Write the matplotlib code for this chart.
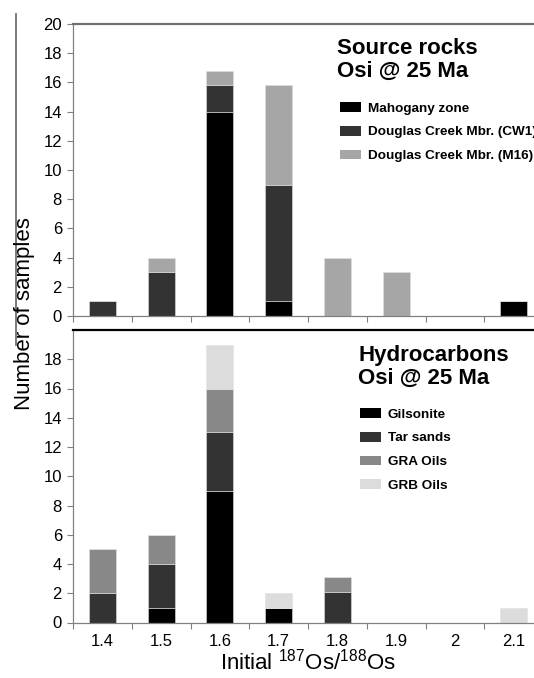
import numpy as np
import matplotlib
matplotlib.use("Agg")
import matplotlib.pyplot as plt
from matplotlib.patches import Patch
from matplotlib.lines import Line2D

OUT_PNG = "out.png"

# categorie dell'asse x (187Os/188Os iniziale)
CATEGORIES = ["1.4", "1.5", "1.6", "1.7", "1.8", "1.9", "2", "2.1"]

# pannello superiore: rocce madri
MAHOGANY = [0, 0, 14, 1, 0, 0, 0, 1]
CW1 = [1, 3, 1.8, 8, 0, 0, 0, 0]
M16 = [0, 1, 1, 6.8, 4, 3, 0, 0]

# pannello inferiore: idrocarburi
GILSONITE = [0, 1, 9, 1, 0, 0, 0, 0]
TAR_SANDS = [2, 3, 4, 0, 2.1, 0, 0, 0]
GRA_OILS = [3, 2, 3, 0, 1, 0, 0, 0]
GRB_OILS = [0, 0, 3, 1, 0, 0, 0, 1]

TOP_LABELS = ["Mahogany zone", "Douglas Creek Mbr. (CW1)", "Douglas Creek Mbr. (M16)"]
BOTTOM_LABELS = ["Gilsonite", "Tar sands", "GRA Oils", "GRB Oils"]

TOP_COLORS = ["#000000", "#333333", "#a6a6a6"]
BOTTOM_COLORS = ["#000000", "#333333", "#888888", "#dcdcdc"]

W, H = 534, 678
DPI = 100
BAR_W = 0.46
AXIS_GRAY = "#808080"

plt.rcParams["font.family"] = ["Liberation Sans", "DejaVu Sans"]
plt.rcParams["mathtext.fontset"] = "custom"
plt.rcParams["mathtext.rm"] = "Liberation Sans"
plt.rcParams["mathtext.it"] = "Liberation Sans:italic"
plt.rcParams["mathtext.bf"] = "Liberation Sans:bold"


def px_rect(left, top, right, bottom):
    """rettangolo in pixel (origine in alto a sinistra) -> coordinate figura"""
    return [left / W, 1 - bottom / H, (right - left) / W, (bottom - top) / H]


def stacked(ax, series, colors):
    x = np.arange(len(CATEGORIES))
    base = np.zeros(len(CATEGORIES))
    for vals, col in zip(series, colors):
        vals = np.asarray(vals, dtype=float)
        ax.bar(x, vals, BAR_W, bottom=base, color=col,
               edgecolor="#e0e0e0", linewidth=0.4, zorder=2)
        base = base + vals


def style_axis(ax, yticks, show_xlabels):
    n = len(CATEGORIES)
    ax.set_xlim(-0.5, n - 0.5)
    ax.set_ylim(0, 20)
    ax.set_yticks(yticks)
    ax.tick_params(axis="y", direction="out", length=4, width=0.8,
                   color=AXIS_GRAY, pad=4, labelsize=12)
    # tacche tra le categorie, etichette al centro
    ax.set_xticks(np.arange(n + 1) - 0.5)
    ax.set_xticklabels([])
    ax.tick_params(axis="x", which="major", direction="out", length=4,
                   width=0.8, color=AXIS_GRAY)
    ax.set_xticks(np.arange(n), minor=True)
    if show_xlabels:
        ax.set_xticklabels(CATEGORIES, minor=True)
    ax.tick_params(axis="x", which="minor", length=0, pad=8, labelsize=12)
    ax.spines["right"].set_visible(False)
    ax.spines["left"].set_color(AXIS_GRAY)
    ax.spines["left"].set_linewidth(0.9)
    ax.spines["bottom"].set_color(AXIS_GRAY)
    ax.spines["bottom"].set_linewidth(0.9)


def add_key(ax, title, labels, colors, title_xy, legend_xy):
    fig = ax.figure
    fig.text(title_xy[0] / W, 1 - title_xy[1] / H, title, fontsize=16,
             fontweight="bold", ha="left", va="top", linespacing=1.15)
    handles = [Patch(facecolor=c, edgecolor="none", label=l)
               for l, c in zip(labels, colors)]
    fig.legend(handles=handles, loc="upper left",
               bbox_to_anchor=(legend_xy[0] / W, 1 - legend_xy[1] / H),
               frameon=False, prop={"weight": "bold", "size": 9.7},
               handlelength=1.55, handleheight=0.75, handletextpad=0.5,
               labelspacing=0.83, borderpad=0, borderaxespad=0)


fig = plt.figure(figsize=(W / DPI, H / DPI), dpi=DPI)

ax_top = fig.add_axes(px_rect(73, 24, 543, 316))
ax_bot = fig.add_axes(px_rect(73, 330, 543, 622.5))

stacked(ax_top, [MAHOGANY, CW1, M16], TOP_COLORS)
stacked(ax_bot, [GILSONITE, TAR_SANDS, GRA_OILS, GRB_OILS], BOTTOM_COLORS)

style_axis(ax_top, np.arange(0, 21, 2), False)
style_axis(ax_bot, np.arange(0, 19, 2), True)

ax_top.spines["top"].set_color("#707070")
ax_top.spines["top"].set_linewidth(1.6)
ax_bot.spines["top"].set_color("#000000")
ax_bot.spines["top"].set_linewidth(1.6)

add_key(ax_top, "Source rocks\nOsi @ 25 Ma", TOP_LABELS, TOP_COLORS,
        (337, 38), (340, 102))
add_key(ax_bot, "Hydrocarbons\nOsi @ 25 Ma", BOTTOM_LABELS, BOTTOM_COLORS,
        (358, 345), (360, 408))

ax_bot.set_xlabel(r"Initial $^{187}$Os/$^{188}$Os", fontsize=16, labelpad=0)

fig.text(25 / W, 1 - 314 / H, "Number of samples", rotation=90,
         fontsize=16, ha="center", va="center")
# barra verticale a sinistra dell'etichetta
fig.add_artist(Line2D([15.5 / W, 15.5 / W], [1 - 14 / H, 1 - 345 / H],
                      color="#707070", linewidth=1.3))

fig.savefig(OUT_PNG, dpi=DPI)
